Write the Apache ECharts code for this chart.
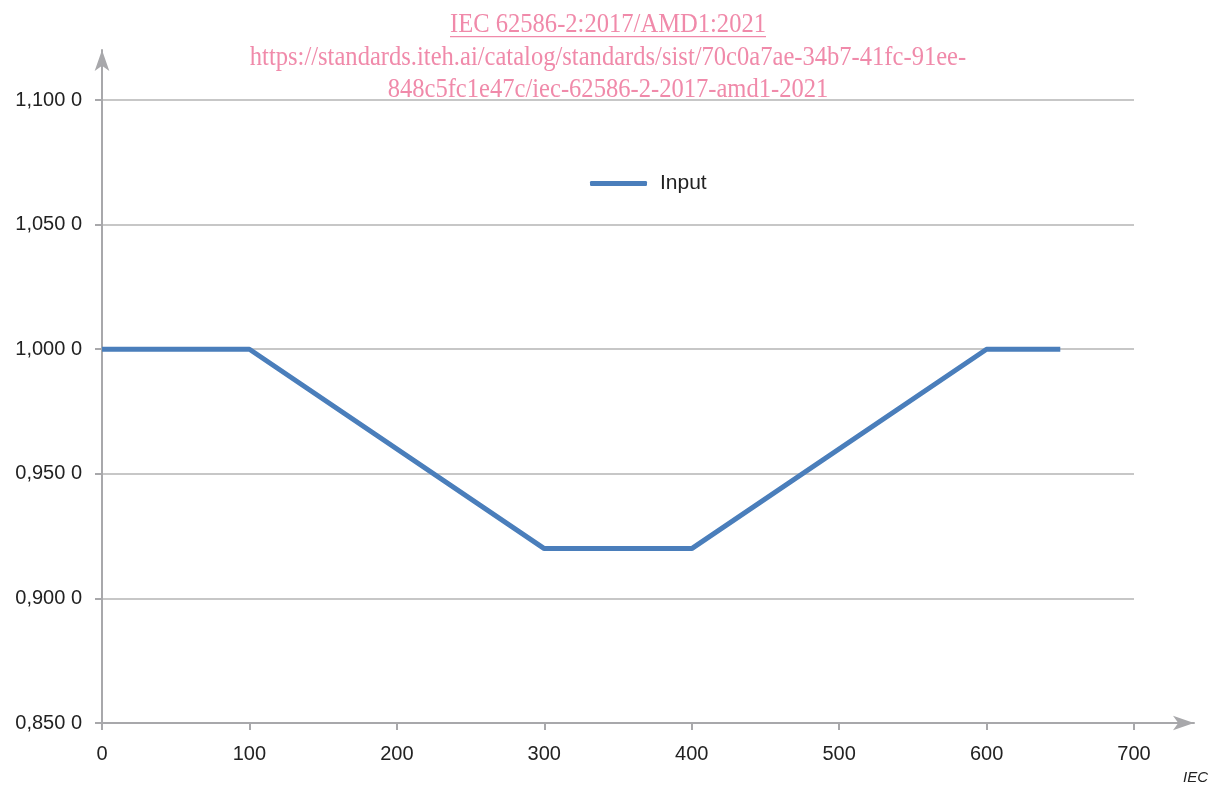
<!DOCTYPE html>
<html><head><meta charset="utf-8">
<script src="https://cdn.jsdelivr.net/npm/echarts@6/dist/echarts.min.js"></script>
<style>html,body{margin:0;padding:0;background:#fff}#c{width:1211px;height:785px}</style>
</head><body><div id="c"></div>
<script>
const seriesName = 'Input';
const xValues = [0, 100, 300, 400, 600, 650];
const yValues = [1.0, 1.0, 0.92, 0.92, 1.0, 1.0];
const xTicks = [0, 100, 200, 300, 400, 500, 600, 700];
const yTicks = [0.85, 0.9, 0.95, 1.0, 1.05, 1.1];
const titleLines = ['IEC 62586-2:2017/AMD1:2021',
  'https://standards.iteh.ai/catalog/standards/sist/70c0a7ae-34b7-41fc-91ee-',
  '848c5fc1e47c/iec-62586-2-2017-amd1-2021'];
const sourceNote = 'IEC';

const axisGray = '#a8a8ab';
const gridGray = '#b4b4b4';
const pink = '#f08aaa';
const labelFont = 'Liberation Sans';
function fmtY(v){ const s = v.toFixed(4).replace('.', ','); return s.slice(0, s.length-1) + ' ' + s.slice(-1); }

const chart = echarts.init(document.getElementById('c'));
const titleSize = 27, titleScale = 0.91, titleCx = 608, titleY0 = 25, titleLh = 32.5;
const tmp = new echarts.graphic.Text({ style: { text: titleLines[0], font: titleSize + 'px "Liberation Serif"' } });
const uw = tmp.getBoundingRect().width * titleScale;
const graphics = titleLines.map((t, i) => ({
  type: 'text', x: titleCx, y: titleY0 + i * titleLh, scaleX: titleScale, originX: 0, originY: 0,
  style: { text: t, fontFamily: 'Liberation Serif', fontSize: titleSize, fill: pink, textAlign: 'center', textVerticalAlign: 'middle' }
}));
graphics.push({ type: 'rect', x: titleCx - uw / 2, y: titleY0 + 11, shape: { width: uw, height: 1.3 }, style: { fill: pink } });

chart.setOption({
  animation: false,
  title: [{
    text: sourceNote, right: 3, bottom: 0, padding: 0,
    textStyle: { fontFamily: labelFont, fontSize: 15, fontStyle: 'italic', fontWeight: 'normal', color: '#222' }
  }],
  legend: {
    data: [seriesName], left: 585, top: 168, itemWidth: 57, itemHeight: 5, itemGap: 10,
    icon: 'roundRect',
    textStyle: { fontFamily: labelFont, fontSize: 21, color: '#222', padding: [0, 0, 0, 8] }
  },
  grid: [
    { left: 102, right: 77, top: 100, bottom: 62 },
    { left: 102, right: 17, top: 50, bottom: 62 }
  ],
  xAxis: [{
    gridIndex: 0, type: 'value', min: 0, max: 700, interval: 100,
    axisLine: { show: false },
    axisTick: { show: true, length: 7, lineStyle: { color: axisGray, width: 2 } },
    axisLabel: { margin: 21, fontFamily: labelFont, fontSize: 20, color: '#222' },
    splitLine: { show: false }
  }, {
    gridIndex: 1, type: 'value', min: 0, max: 1,
    axisLine: { show: true, symbol: ['none', 'arrow'], symbolSize: [11, 21], lineStyle: { color: axisGray, width: 2 } },
    axisTick: { show: false }, axisLabel: { show: false }, splitLine: { show: false }
  }],
  yAxis: [{
    gridIndex: 0, type: 'value', min: 0.85, max: 1.1, interval: 0.05,
    axisLine: { show: false },
    axisTick: { show: true, length: 7, lineStyle: { color: axisGray, width: 2 } },
    axisLabel: { margin: 20, fontFamily: labelFont, fontSize: 20, color: '#222', formatter: fmtY },
    splitLine: { show: true, lineStyle: { color: gridGray, width: 1.5 } }
  }, {
    gridIndex: 1, type: 'value', min: 0, max: 1,
    axisLine: { show: true, symbol: ['none', 'arrow'], symbolSize: [11, 21], lineStyle: { color: axisGray, width: 2 } },
    axisTick: { show: false }, axisLabel: { show: false }, splitLine: { show: false }
  }],
  series: [{
    name: seriesName, type: 'line', xAxisIndex: 0, yAxisIndex: 0,
    data: xValues.map((x, i) => [x, yValues[i]]),
    showSymbol: false, symbol: 'none',
    lineStyle: { color: '#4a7ebb', width: 5 }, itemStyle: { color: '#4a7ebb' }
  }],
  graphic: graphics
});
</script></body></html>
